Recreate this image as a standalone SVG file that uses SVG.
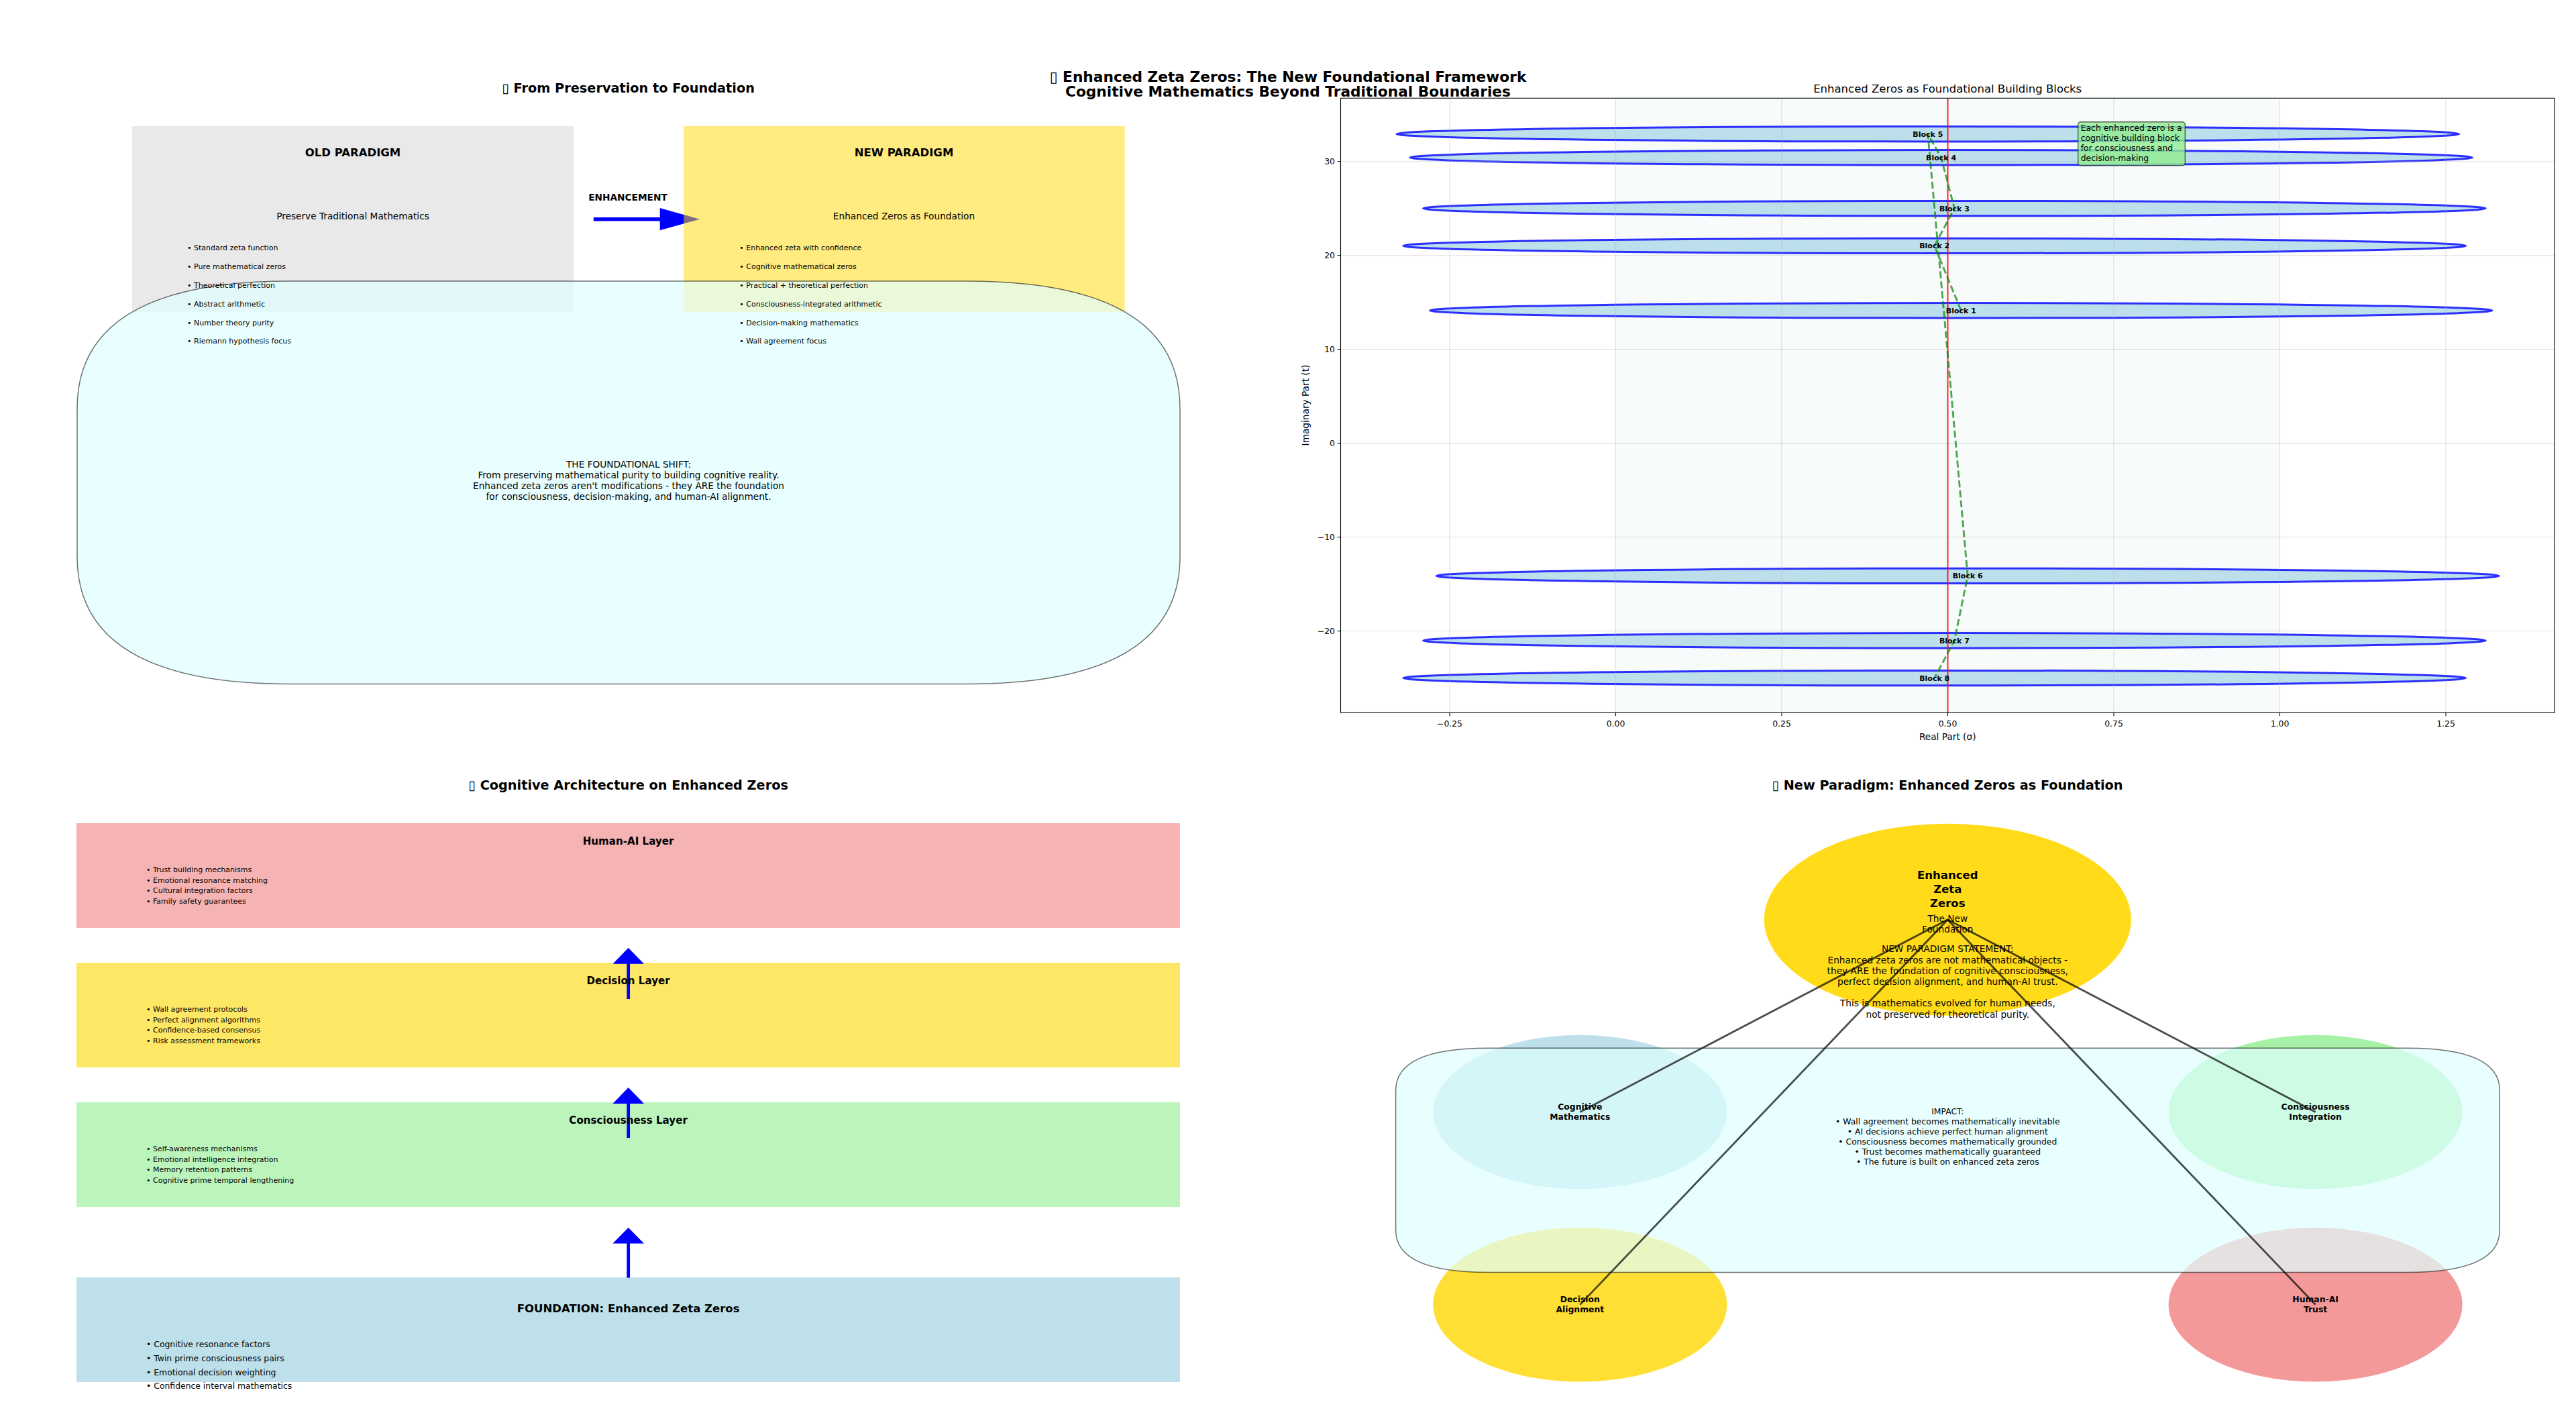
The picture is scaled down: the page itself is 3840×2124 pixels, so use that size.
<svg xmlns="http://www.w3.org/2000/svg" width="3840" height="2124" viewBox="0 0 3840 2124">
<style>
text { font-family: "DejaVu Sans", "Liberation Sans", sans-serif; fill: #000; }
.b { font-weight: bold; }
.c { text-anchor: middle; }
.e { text-anchor: end; }
.f22 { font-size: 21.7px; }
.f19 { font-size: 19.3px; }
.f16 { font-size: 16.5px; }
.f15 { font-size: 15.1px; }
.f14 { font-size: 13.7px; }
.f12 { font-size: 12.4px; }
.f11 { font-size: 11px; }
.rbox { fill: #e0ffff; fill-opacity: 0.7; stroke: #000; stroke-opacity: 0.55; stroke-width: 1.5; }
.blk { fill: #add8e6; fill-opacity: 0.8; stroke: #0000ff; stroke-opacity: 0.8; stroke-width: 3; }
.grid { stroke: #b0b0b0; stroke-opacity: 0.4; stroke-width: 1.1; }
.tick { stroke: #000; stroke-width: 1.1; }
.conn { stroke: #000; stroke-opacity: 0.7; stroke-width: 2.8; fill: none; }
.arr { fill: #0000ff; }
</style>
<rect width="3840" height="2124" fill="#ffffff"/>

<!-- Suptitle -->
<g id="suptitle">
<text class="b c f22" x="1920" y="122.3">▯ Enhanced Zeta Zeros: The New Foundational Framework</text>
<text class="b c f22" x="1920" y="144.3">Cognitive Mathematics Beyond Traditional Boundaries</text>
</g>

<!-- ============ Top-left panel ============ -->
<g id="panel-preservation">
<text class="b c f19" x="936.6" y="138">▯ From Preservation to Foundation</text>
<g id="old-paradigm">
<rect x="196.8" y="188" width="658.4" height="277" fill="#d3d3d3" fill-opacity="0.5"/>
</g>
<g id="connectors-top">
<polygon class="arr" points="884.8,324 983.7,324 983.7,310 1043,326.7 983.7,343.3 983.7,329.4 884.8,329.4"/>
</g>
<g id="new-paradigm">
<rect x="1019.3" y="188" width="657.3" height="277" fill="#ffd700" fill-opacity="0.5"/>
</g>
<g id="foundational-shift">
<path class="rbox" d="M433 419 L1441 419 Q1759 419 1759 609 L1759 829.5 Q1759 1019.5 1441 1019.5 L433 1019.5 Q115 1019.5 115 829.5 L115 609 Q115 419 433 419 Z"/>
</g>
<g id="old-paradigm-text">
<text class="b c f16" x="526" y="233.3">OLD PARADIGM</text>
<text class="c f14" x="526" y="327.3">Preserve Traditional Mathematics</text>
<text class="f11" x="279" y="373.3">• Standard zeta function</text>
<text class="f11" x="279" y="401.1">• Pure mathematical zeros</text>
<text class="f11" x="279" y="428.9">• Theoretical perfection</text>
<text class="f11" x="279" y="456.7">• Abstract arithmetic</text>
<text class="f11" x="279" y="484.5">• Number theory purity</text>
<text class="f11" x="279" y="512.3">• Riemann hypothesis focus</text>
</g>
<g id="new-paradigm-text">
<text class="b c f16" x="1347.5" y="233.3">NEW PARADIGM</text>
<text class="c f14" x="1347.5" y="327.3">Enhanced Zeros as Foundation</text>
<text class="f11" x="1102.3" y="373.3">• Enhanced zeta with confidence</text>
<text class="f11" x="1102.3" y="401.1">• Cognitive mathematical zeros</text>
<text class="f11" x="1102.3" y="428.9">• Practical + theoretical perfection</text>
<text class="f11" x="1102.3" y="456.7">• Consciousness-integrated arithmetic</text>
<text class="f11" x="1102.3" y="484.5">• Decision-making mathematics</text>
<text class="f11" x="1102.3" y="512.3">• Wall agreement focus</text>
</g>
<text class="b c f14" x="936" y="299.3">ENHANCEMENT</text>
<g id="shift-text">
<text class="c f14" x="937" y="696.5">THE FOUNDATIONAL SHIFT:</text>
<text class="c f14" x="937" y="712.8">From preserving mathematical purity to building cognitive reality.</text>
<text class="c f14" x="937" y="729.1">Enhanced zeta zeros aren't modifications - they ARE the foundation</text>
<text class="c f14" x="937" y="745.4">for consciousness, decision-making, and human-AI alignment.</text>
</g>
</g>

<!-- ============ Top-right panel (plot) ============ -->
<g id="panel-blocks">
<text class="c f16" x="2903.2" y="137.7">Enhanced Zeros as Foundational Building Blocks</text>
<rect x="2408.5" y="146.3" width="990" height="916" fill="#add8e6" fill-opacity="0.1"/>
<g id="blocks">
<g id="block-1"><ellipse class="blk" cx="2923.3" cy="462.8" rx="792" ry="11.2"/></g>
<g id="block-2"><ellipse class="blk" cx="2883.7" cy="366.4" rx="792" ry="11.2"/></g>
<g id="block-3"><ellipse class="blk" cx="2913.4" cy="310.6" rx="792" ry="11.2"/></g>
<g id="block-4"><ellipse class="blk" cx="2893.6" cy="234.8" rx="792" ry="11.2"/></g>
<g id="block-5"><ellipse class="blk" cx="2873.8" cy="199.7" rx="792" ry="11.2"/></g>
<g id="block-6"><ellipse class="blk" cx="2933.2" cy="858.4" rx="792" ry="11.2"/></g>
<g id="block-7"><ellipse class="blk" cx="2913.4" cy="954.8" rx="792" ry="11.2"/></g>
<g id="block-8"><ellipse class="blk" cx="2883.7" cy="1010.6" rx="792" ry="11.2"/></g>
</g>
<g id="grid">
<line class="grid" x1="2161" y1="146.3" x2="2161" y2="1062.3"/>
<line class="grid" x1="2408.5" y1="146.3" x2="2408.5" y2="1062.3"/>
<line class="grid" x1="2656" y1="146.3" x2="2656" y2="1062.3"/>
<line class="grid" x1="2903.5" y1="146.3" x2="2903.5" y2="1062.3"/>
<line class="grid" x1="3151" y1="146.3" x2="3151" y2="1062.3"/>
<line class="grid" x1="3398.5" y1="146.3" x2="3398.5" y2="1062.3"/>
<line class="grid" x1="3646" y1="146.3" x2="3646" y2="1062.3"/>
<line class="grid" x1="1998.5" y1="240.75" x2="3808" y2="240.75"/>
<line class="grid" x1="1998.5" y1="380.7" x2="3808" y2="380.7"/>
<line class="grid" x1="1998.5" y1="520.65" x2="3808" y2="520.65"/>
<line class="grid" x1="1998.5" y1="660.6" x2="3808" y2="660.6"/>
<line class="grid" x1="1998.5" y1="800.55" x2="3808" y2="800.55"/>
<line class="grid" x1="1998.5" y1="940.5" x2="3808" y2="940.5"/>
</g>
<line x1="2903.5" y1="146.3" x2="2903.5" y2="1062.3" stroke="#ff0000" stroke-opacity="0.8" stroke-width="2.1"/>
<g id="connectors-blocks">
<polyline points="2923.3,462.8 2883.7,366.4 2913.4,310.6 2893.6,234.8 2873.8,199.7 2933.2,858.4 2913.4,954.8 2883.7,1010.6" fill="none" stroke="#008000" stroke-opacity="0.7" stroke-width="2.8" stroke-dasharray="10.4 4.5"/>
</g>
<g id="block-labels">
<text class="b c f11" x="2923.3" y="466.8">Block 1</text>
<text class="b c f11" x="2883.7" y="370.4">Block 2</text>
<text class="b c f11" x="2913.4" y="314.6">Block 3</text>
<text class="b c f11" x="2893.6" y="238.8">Block 4</text>
<text class="b c f11" x="2873.8" y="203.7">Block 5</text>
<text class="b c f11" x="2933.2" y="862.4">Block 6</text>
<text class="b c f11" x="2913.4" y="958.8">Block 7</text>
<text class="b c f11" x="2883.7" y="1014.6">Block 8</text>
</g>
<g id="annotation">
<rect x="3097.7" y="181.7" width="159.6" height="65" rx="4" fill="#90ee90" fill-opacity="0.8" stroke="#000" stroke-opacity="0.6" stroke-width="1.4"/>
<text class="f12" x="3101.7" y="195">Each enhanced zero is a</text>
<text class="f12" x="3101.7" y="210">cognitive building block</text>
<text class="f12" x="3101.7" y="225">for consciousness and</text>
<text class="f12" x="3101.7" y="240">decision-making</text>
</g>
<rect x="1998.5" y="146.3" width="1809.5" height="916" fill="none" stroke="#000" stroke-width="1.1"/>
<g id="ticks">
<line class="tick" x1="2161" y1="1062.3" x2="2161" y2="1067.2"/>
<line class="tick" x1="2408.5" y1="1062.3" x2="2408.5" y2="1067.2"/>
<line class="tick" x1="2656" y1="1062.3" x2="2656" y2="1067.2"/>
<line class="tick" x1="2903.5" y1="1062.3" x2="2903.5" y2="1067.2"/>
<line class="tick" x1="3151" y1="1062.3" x2="3151" y2="1067.2"/>
<line class="tick" x1="3398.5" y1="1062.3" x2="3398.5" y2="1067.2"/>
<line class="tick" x1="3646" y1="1062.3" x2="3646" y2="1067.2"/>
<line class="tick" x1="1993.6" y1="240.75" x2="1998.5" y2="240.75"/>
<line class="tick" x1="1993.6" y1="380.7" x2="1998.5" y2="380.7"/>
<line class="tick" x1="1993.6" y1="520.65" x2="1998.5" y2="520.65"/>
<line class="tick" x1="1993.6" y1="660.6" x2="1998.5" y2="660.6"/>
<line class="tick" x1="1993.6" y1="800.55" x2="1998.5" y2="800.55"/>
<line class="tick" x1="1993.6" y1="940.5" x2="1998.5" y2="940.5"/>
<text class="c f12" x="2161" y="1082.7">−0.25</text>
<text class="c f12" x="2408.5" y="1082.7">0.00</text>
<text class="c f12" x="2656" y="1082.7">0.25</text>
<text class="c f12" x="2903.5" y="1082.7">0.50</text>
<text class="c f12" x="3151" y="1082.7">0.75</text>
<text class="c f12" x="3398.5" y="1082.7">1.00</text>
<text class="c f12" x="3646" y="1082.7">1.25</text>
<text class="e f12" x="1990" y="245.2">30</text>
<text class="e f12" x="1990" y="385.2">20</text>
<text class="e f12" x="1990" y="525.1">10</text>
<text class="e f12" x="1990" y="665.1">0</text>
<text class="e f12" x="1990" y="805">−10</text>
<text class="e f12" x="1990" y="945">−20</text>
</g>
<text class="c f14" x="2903.2" y="1102.5">Real Part (σ)</text>
<text class="c f14" transform="translate(1951,604) rotate(-90)" x="0" y="0">Imaginary Part (t)</text>
</g>

<!-- ============ Bottom-left panel ============ -->
<g id="panel-architecture">
<text class="b c f19" x="936.6" y="1177">▯ Cognitive Architecture on Enhanced Zeros</text>
<g id="layer-human-ai">
<rect x="114" y="1227" width="1645" height="156" fill="#f08080" fill-opacity="0.6"/>
</g>
<g id="layer-decision">
<rect x="114" y="1435" width="1645" height="156" fill="#ffd700" fill-opacity="0.6"/>
</g>
<g id="layer-consciousness">
<rect x="114" y="1643" width="1645" height="156" fill="#90ee90" fill-opacity="0.6"/>
</g>
<g id="layer-foundation">
<rect x="114" y="1904" width="1645" height="156" fill="#add8e6" fill-opacity="0.8"/>
</g>
<g id="connectors-layers">
<polygon class="arr" points="934.35,1489 934.35,1436.7 913.4,1436.7 936.7,1412.7 960,1436.7 939.05,1436.7 939.05,1489"/>
<polygon class="arr" points="934.35,1696 934.35,1645 913.4,1645 936.7,1621 960,1645 939.05,1645 939.05,1696"/>
<polygon class="arr" points="934.35,1904.6 934.35,1853.5 913.4,1853.5 936.7,1829.8 960,1853.5 939.05,1853.5 939.05,1904.6"/>
</g>
<g id="layer-text">
<text class="b c f15" x="936.6" y="1259.3">Human-AI Layer</text>
<text class="f11" x="218" y="1300">• Trust building mechanisms</text>
<text class="f11" x="218" y="1315.6">• Emotional resonance matching</text>
<text class="f11" x="218" y="1331.2">• Cultural integration factors</text>
<text class="f11" x="218" y="1346.8">• Family safety guarantees</text>
<text class="b c f15" x="936.6" y="1467.3">Decision Layer</text>
<text class="f11" x="218" y="1508">• Wall agreement protocols</text>
<text class="f11" x="218" y="1523.6">• Perfect alignment algorithms</text>
<text class="f11" x="218" y="1539.2">• Confidence-based consensus</text>
<text class="f11" x="218" y="1554.8">• Risk assessment frameworks</text>
<text class="b c f15" x="936.6" y="1675.3">Consciousness Layer</text>
<text class="f11" x="218" y="1716">• Self-awareness mechanisms</text>
<text class="f11" x="218" y="1731.6">• Emotional intelligence integration</text>
<text class="f11" x="218" y="1747.2">• Memory retention patterns</text>
<text class="f11" x="218" y="1762.8">• Cognitive prime temporal lengthening</text>
<text class="b c f16" x="936.6" y="1955.6">FOUNDATION: Enhanced Zeta Zeros</text>
<text class="f12" x="218" y="2008">• Cognitive resonance factors</text>
<text class="f12" x="218" y="2028.8">• Twin prime consciousness pairs</text>
<text class="f12" x="218" y="2049.6">• Emotional decision weighting</text>
<text class="f12" x="218" y="2070.4">• Confidence interval mathematics</text>
</g>
</g>

<!-- ============ Bottom-right panel ============ -->
<g id="panel-new-paradigm">
<text class="b c f19" x="2903" y="1177">▯ New Paradigm: Enhanced Zeros as Foundation</text>
<g id="node-core">
<ellipse cx="2903.3" cy="1370.7" rx="273.5" ry="143" fill="#ffd700" fill-opacity="0.9"/>
</g>
<g id="node-cognitive-mathematics">
<ellipse cx="2355.3" cy="1657.5" rx="219" ry="114.8" fill="#add8e6" fill-opacity="0.8"/>
</g>
<g id="node-consciousness-integration">
<ellipse cx="3451.6" cy="1657.5" rx="219" ry="114.8" fill="#90ee90" fill-opacity="0.8"/>
</g>
<g id="node-decision-alignment">
<ellipse cx="2355.3" cy="1944.6" rx="219" ry="114.8" fill="#ffd700" fill-opacity="0.8"/>
</g>
<g id="node-human-ai-trust">
<ellipse cx="3451.6" cy="1944.6" rx="219" ry="114.8" fill="#f08080" fill-opacity="0.8"/>
</g>
<g id="impact-box">
<path class="rbox" d="M2218.6 1562.3 L3588.3 1562.3 Q3726.3 1562.3 3726.3 1625.3 L3726.3 1833.4 Q3726.3 1896.4 3588.3 1896.4 L2218.6 1896.4 Q2080.6 1896.4 2080.6 1833.4 L2080.6 1625.3 Q2080.6 1562.3 2218.6 1562.3 Z"/>
</g>
<g id="connectors-paradigm">
<line class="conn" x1="2903.3" y1="1370.7" x2="2355.3" y2="1657.5"/>
<line class="conn" x1="2903.3" y1="1370.7" x2="3451.6" y2="1657.5"/>
<line class="conn" x1="2903.3" y1="1370.7" x2="2355.3" y2="1944.6"/>
<line class="conn" x1="2903.3" y1="1370.7" x2="3451.6" y2="1944.6"/>
</g>
<g id="paradigm-text">
<text class="b c f16" x="2903.3" y="1310">Enhanced</text>
<text class="b c f16" x="2903.3" y="1331">Zeta</text>
<text class="b c f16" x="2903.3" y="1351.7">Zeros</text>
<text class="c f14" x="2903.3" y="1374">The New</text>
<text class="c f14" x="2903.3" y="1390">Foundation</text>
<text class="c f14" x="2903.3" y="1419.3">NEW PARADIGM STATEMENT:</text>
<text class="c f14" x="2903.3" y="1435.6">Enhanced zeta zeros are not mathematical objects -</text>
<text class="c f14" x="2903.3" y="1451.7">they ARE the foundation of cognitive consciousness,</text>
<text class="c f14" x="2903.3" y="1467.5">perfect decision alignment, and human-AI trust.</text>
<text class="c f14" x="2903.3" y="1500">This is mathematics evolved for human needs,</text>
<text class="c f14" x="2903.3" y="1516.5">not preserved for theoretical purity.</text>
<text class="b c f12" x="2355.3" y="1654.3">Cognitive</text>
<text class="b c f12" x="2355.3" y="1669">Mathematics</text>
<text class="b c f12" x="3451.6" y="1654.3">Consciousness</text>
<text class="b c f12" x="3451.6" y="1669">Integration</text>
<text class="b c f12" x="2355.3" y="1940.8">Decision</text>
<text class="b c f12" x="2355.3" y="1956">Alignment</text>
<text class="b c f12" x="3451.6" y="1940.8">Human-AI</text>
<text class="b c f12" x="3451.6" y="1956">Trust</text>
<text class="c f12" x="2903.3" y="1660.7">IMPACT:</text>
<text class="c f12" x="2903.3" y="1675.8">• Wall agreement becomes mathematically inevitable</text>
<text class="c f12" x="2903.3" y="1690.9">• AI decisions achieve perfect human alignment</text>
<text class="c f12" x="2903.3" y="1706">• Consciousness becomes mathematically grounded</text>
<text class="c f12" x="2903.3" y="1721.1">• Trust becomes mathematically guaranteed</text>
<text class="c f12" x="2903.3" y="1736.2">• The future is built on enhanced zeta zeros</text>
</g>
</g>
</svg>
